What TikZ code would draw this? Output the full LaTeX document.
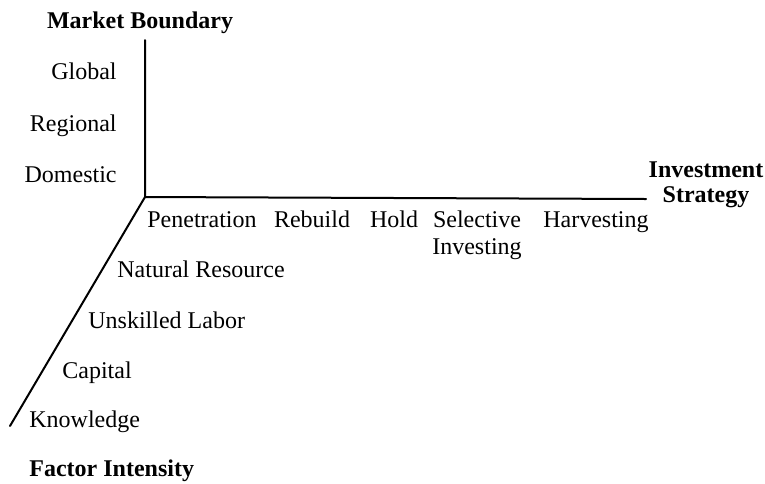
\documentclass[tikz,border=0pt]{standalone}
\usepackage{fontspec}
\setmainfont{Liberation Serif}
\begin{document}
\begin{tikzpicture}[x=0.5pt,y=-0.5pt,
  axis/.style={line width=1pt,line cap=round,line join=miter},
  lab/.style={inner sep=0pt,font=\fontsize{12}{13}\selectfont},
  title/.style={lab,font=\fontsize{12}{12.5}\selectfont\bfseries}]
\useasboundingbox (0,0) rectangle (765,483);

% axes
\coordinate (O) at (145,197);
\coordinate (ytop) at (145,40);
\coordinate (xend) at (646,199);
\coordinate (zend) at (10,426);
\draw[axis] (ytop) -- (O) -- (xend);
\draw[axis] (O) -- (zend);

% market boundary axis
\node[title,anchor=base] (mb) at (140,28) {Market Boundary};
\node[lab,anchor=base east] (glob) at (117,79) {Global};
\node[lab,anchor=base east] (reg) at (117,131) {Regional};
\node[lab,anchor=base east] (dom) at (117,182) {Domestic};

% investment strategy axis
\node[title,anchor=north,align=center] (is) at (706,161) {Investment\\Strategy};
\node[lab,anchor=base] (pen) at (202,227) {Penetration};
\node[lab,anchor=base] (reb) at (312,227) {Rebuild};
\node[lab,anchor=base] (hold) at (394,227) {Hold};
\node[lab,anchor=north,align=center,font=\fontsize{12}{13.5}\selectfont] (sel) at (477,210.5) {Selective\\Investing};
\node[lab,anchor=base] (harv) at (596,227) {Harvesting};

% factor intensity axis
\node[lab,anchor=base west] (nat) at (117,277) {Natural Resource};
\node[lab,anchor=base west] (unsk) at (88,328) {Unskilled Labor};
\node[lab,anchor=base west] (cap) at (62,378) {Capital};
\node[lab,anchor=base west] (know) at (29,427) {Knowledge};
\node[title,anchor=base west] (fi) at (29,476) {Factor Intensity};
\end{tikzpicture}
\end{document}
